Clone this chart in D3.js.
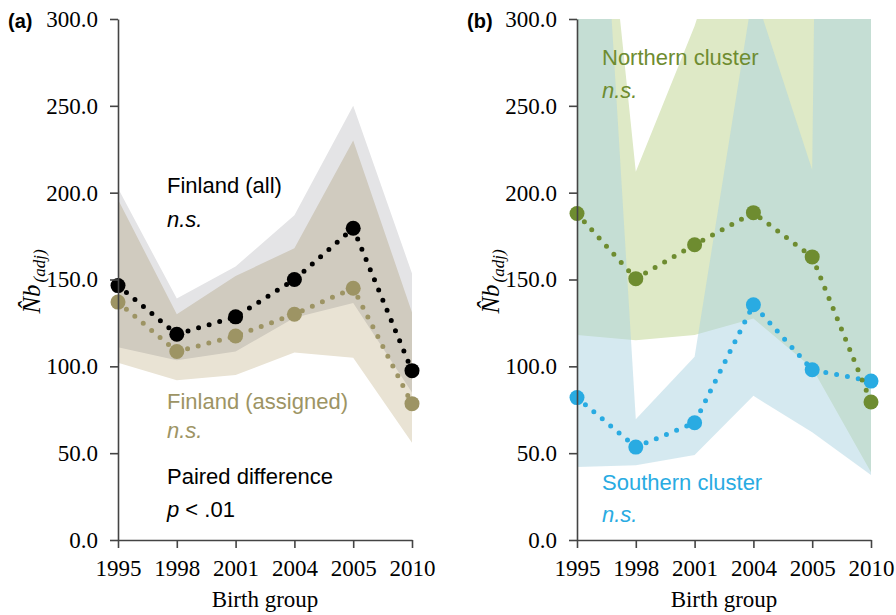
<!DOCTYPE html>
<meta charset="utf-8">
<script src="https://d3js.org/d3.v7.min.js"></script>
<style>
  body { margin: 0; background: #fff; }
  .tick text { font-family: "Liberation Serif", "Times New Roman", serif; font-size: 23px; fill: #000; }
  .lab { font-family: "Liberation Sans", Arial, sans-serif; font-size: 22px; }
</style>
<body>
<div id="chart"></div>
<script>

// birth groups
var years = ["1995", "1998", "2001", "2004", "2005", "2010"];

// panel (a) Finland (all)
var allNb = [146.5, 118.5, 128.5, 150, 179.5, 97.5];
var allLo = [111, 103.5, 108.5, 128, 136.5, 85];
var allHi = [202.5, 139, 157.5, 187, 250, 153.5];

// panel (a) Finland (assigned)
var asgNb = [137, 108.5, 117.5, 130, 145, 78.5];
var asgLo = [102, 92, 95, 108, 105, 56];
var asgHi = [196, 130, 152, 168, 230, 131];

// panel (b) Northern cluster
var norNb = [188, 150.5, 170, 188.5, 163, 79.5];
var norLo = [118, 115, 118, 127.5, 99, 39];
var norHi = [540, 212, 296, 400, 350, 400];

// panel (b) Southern cluster
var souNb = [82, 53.5, 67.5, 135.5, 98, 91.5];
var souLo = [42, 43, 49, 83, 62, 37.5];
var souHi = [630, 69.5, 105.5, 317, 213, 3000];

var yTicks = [0, 50, 100, 150, 200, 250, 300];

var marginTop = 19, plotH = 521, plotW = 294;

var svg = d3.select("#chart")
  .append("svg")
    .attr("width", 896)
    .attr("height", 615);

var x = d3.scalePoint().domain(years).range([0, plotW]);
var y = d3.scaleLinear().domain([0, 300]).range([plotH, 0]);

function zip(a, b) {
  return years.map(function(yr, i) { return {yr: yr, lo: a[i], hi: b[i]}; });
}

var area = d3.area()
  .x(function(d) { return x(d.yr); })
  .y0(function(d) { return y(d.lo); })
  .y1(function(d) { return y(d.hi); });

var line = d3.line()
  .x(function(d) { return x(d.yr); })
  .y(function(d) { return y(d.v); });

function panel(left, id) {
  var g = svg.append("g").attr("transform", "translate(" + left + "," + marginTop + ")");

  svg.append("clipPath").attr("id", "clip" + id)
    .append("rect").attr("x", 0).attr("y", 0).attr("width", plotW).attr("height", plotH);

  g.band = g.append("g").attr("clip-path", "url(#clip" + id + ")");
  return g;
}

function series(g, vals, col) {
  var pts = years.map(function(yr, i) { return {yr: yr, v: vals[i]}; });
  g.append("path")
    .datum(pts)
    .attr("d", line)
    .attr("fill", "none")
    .attr("stroke", col)
    .attr("stroke-width", 5)
    .attr("stroke-linecap", "round")
    .attr("stroke-dasharray", "0 11");
  g.selectAll(null)
    .data(pts)
    .enter()
    .append("circle")
      .attr("cx", function(d) { return x(d.yr); })
      .attr("cy", function(d) { return y(d.v); })
      .attr("r", 7.5)
      .attr("fill", col);
}

function axes(g, tag) {
  var ya = g.append("g")
    .call(d3.axisLeft(y).tickValues(yTicks).tickFormat(d3.format(".1f")).tickSize(8).tickPadding(12).tickSizeOuter(0));
  var xa = g.append("g")
    .attr("transform", "translate(0," + plotH + ")")
    .call(d3.axisBottom(x).tickSize(8).tickPadding(12).tickSizeOuter(0));
  [ya, xa].forEach(function(a) {
    a.select(".domain").attr("stroke", "#444").attr("stroke-width", 1.6);
    a.selectAll(".tick line").attr("stroke", "#444").attr("stroke-width", 1.6);
  });

  g.append("text")
    .attr("x", plotW / 2)
    .attr("y", 588)
    .attr("text-anchor", "middle")
    .style("font-family", "Liberation Serif, serif")
    .style("font-size", "23px")
    .text("Birth group");

  var yl = g.append("text")
    .attr("transform", "translate(-78," + (plotH / 2 + 2) + ") rotate(-90)")
    .attr("text-anchor", "middle")
    .style("font-family", "Liberation Serif, serif")
    .style("font-style", "italic");
  yl.append("tspan").style("font-size", "25px").text("N\u0302b");
  yl.append("tspan").style("font-size", "17px").attr("dy", 5).attr("dx", 2).text("(adj)");

  g.append("text")
    .attr("x", -110)
    .attr("y", 9)
    .style("font-family", "Liberation Sans, Arial, sans-serif")
    .style("font-weight", "bold")
    .style("font-size", "20px")
    .text(tag);
}

function label(g, xp, yp, txt, col, ital) {
  g.append("text")
    .attr("class", "lab")
    .attr("x", xp)
    .attr("y", yp)
    .attr("fill", col)
    .style("font-style", ital ? "italic" : "normal")
    .text(txt);
}

// (a)
var ga = panel(118, "a");
ga.band.append("path").datum(zip(allLo, allHi)).attr("d", area).attr("fill", "#e4e4e6");
ga.band.append("path").datum(zip(asgLo, asgHi)).attr("d", area).attr("fill", "#e9e3d4")
  .style("mix-blend-mode", "multiply");
series(ga, asgNb, "#9d9464");
series(ga, allNb, "#000");
axes(ga, "(a)");
label(ga, 49, 174, "Finland (all)", "#000", false);
label(ga, 49, 208, "n.s.", "#000", true);
label(ga, 49, 390, "Finland (assigned)", "#9d9464", false);
label(ga, 49, 419, "n.s.", "#9d9464", true);
label(ga, 49, 465, "Paired difference", "#000", false);
var pl = ga.append("text").attr("class", "lab").attr("x", 49).attr("y", 498);
pl.append("tspan").style("font-style", "italic").text("p");
pl.append("tspan").text(" < .01");

// (b)
var gb = panel(577, "b");
gb.band.append("path").datum(zip(norLo, norHi)).attr("d", area).attr("fill", "#dee9c6");
gb.band.append("path").datum(zip(souLo, souHi)).attr("d", area).attr("fill", "rgb(171,211,225)")
  .attr("fill-opacity", 0.5);
series(gb, souNb, "#29abe2");
series(gb, norNb, "#6e8c30");
axes(gb, "(b)");
label(gb, 25, 46, "Northern cluster", "#6e8c30", false);
label(gb, 25, 79, "n.s.", "#6e8c30", true);
label(gb, 25, 471, "Southern cluster", "#29abe2", false);
label(gb, 25, 503, "n.s.", "#29abe2", true);

</script>
</body>
